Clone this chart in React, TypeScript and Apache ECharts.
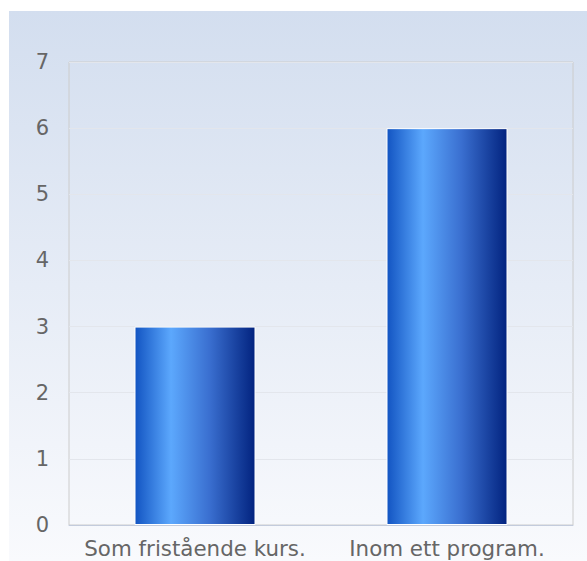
import React, { useEffect, useRef } from "react";
import * as echarts from "echarts";

const categories = ["Som fristående kurs.", "Inom ett program."];
const values = [3, 6];
const yMin = 0;
const yMax = 7;
const yInterval = 1;

export default function App() {
  const ref = useRef<HTMLDivElement>(null);
  useEffect(() => {
    if (!ref.current) return;
    const chart = echarts.init(ref.current, undefined, { renderer: "svg" });
    const barGradient = new echarts.graphic.LinearGradient(0, 0, 1, 0, [
      { offset: 0, color: "#1254c2" },
      { offset: 0.3, color: "#5ca8fd" },
      { offset: 0.62, color: "#3a6fd0" },
      { offset: 1, color: "#02237f" },
    ]);
    chart.setOption({
      animation: false,
      backgroundColor: new echarts.graphic.LinearGradient(0, 0, 0, 1, [
        { offset: 0, color: "#d3deef" },
        { offset: 1, color: "#f9fafd" },
      ]),
      textStyle: { fontFamily: "DejaVu Sans" },
      grid: {
        left: 60,
        right: 14,
        top: 51,
        bottom: 36,
        show: true,
        borderColor: "#cccccc",
        borderWidth: 1,
        backgroundColor: "transparent",
      },
      xAxis: {
        type: "category",
        data: categories,
        axisTick: { show: false },
        axisLine: { show: true, lineStyle: { color: "#c3cbdc", width: 1 } },
        axisLabel: {
          interval: 0,
          color: "#666666",
          fontSize: 21.4,
          margin: 13,
          fontFamily: "DejaVu Sans",
        },
      },
      yAxis: {
        type: "value",
        min: yMin,
        max: yMax,
        interval: yInterval,
        axisLine: { show: false },
        axisTick: { show: false },
        splitLine: { show: true, lineStyle: { color: "#e3e6ec", width: 1 } },
        axisLabel: { color: "#666666", fontSize: 21, margin: 20, fontFamily: "DejaVu Sans" },
      },
      series: [
        {
          type: "bar",
          data: values,
          barWidth: 121,
          itemStyle: {
            color: barGradient,
            borderColor: "#ffffff",
            borderWidth: 1,
          },
        },
      ],
    });
    return () => chart.dispose();
  }, []);
  return (
    <div
      ref={ref}
      style={{ position: "absolute", left: 9, top: 11, width: 578, height: 550 }}
    />
  );
}
